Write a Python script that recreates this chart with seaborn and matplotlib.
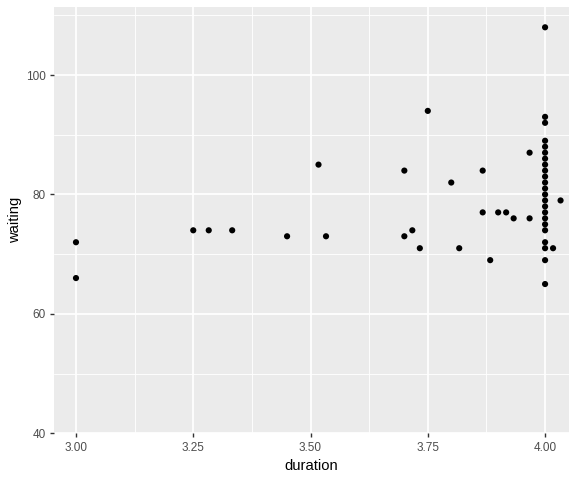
import matplotlib
matplotlib.use("Agg")
import matplotlib.pyplot as plt
import seaborn as sns
import pandas as pd
from matplotlib.ticker import MultipleLocator

# data
duration = [3.0, 3.0, 3.25, 3.283, 3.333, 3.45, 3.517, 3.533,
            3.7, 3.7, 3.717, 3.733, 3.75, 3.8, 3.817, 3.867, 3.867,
            3.883, 3.9, 3.917, 3.933, 3.967, 3.967]
waiting = [72, 66, 74, 74, 74, 73, 85, 73,
           84, 73, 74, 71, 94, 82, 71, 84, 77,
           69, 77, 77, 76, 87, 76]

# column at duration = 4.0
waiting_at_4 = [108, 93, 92, 89, 88, 87, 86, 85, 84, 83, 82, 81, 80,
                79, 78, 77, 76, 75, 74, 72, 71, 69, 65]

extra_duration = [4.017, 4.033]
extra_waiting = [71, 79]

x_ticks = [3.00, 3.25, 3.50, 3.75, 4.00]
x_tick_labels = ["3.00", "3.25", "3.50", "3.75", "4.00"]
y_ticks = [40, 60, 80, 100]

df = pd.DataFrame({
    "duration": duration + [4.0] * len(waiting_at_4) + extra_duration,
    "waiting": waiting + waiting_at_4 + extra_waiting,
})

sns.set_style("darkgrid", {"axes.facecolor": "#EBEBEB", "grid.color": "white"})
plt.rcParams["font.family"] = ["Liberation Sans", "DejaVu Sans"]

fig = plt.figure(figsize=(8, 480 / 72), dpi=72)
ax = fig.add_axes([53.7 / 576, (480 - 433.3) / 480,
                   (569 - 53.7) / 576, (433.3 - 7) / 480])

sns.scatterplot(data=df, x="duration", y="waiting", ax=ax,
                color="black", s=38, edgecolor="none", zorder=3)

ax.set_xlim(2.9525, 4.051)
ax.set_ylim(40, 111.4)
ax.set_xticks(x_ticks)
ax.set_xticklabels(x_tick_labels)
ax.set_yticks(y_ticks)
ax.xaxis.set_minor_locator(MultipleLocator(0.125))
ax.yaxis.set_minor_locator(MultipleLocator(10))

ax.grid(which="major", color="white", linewidth=1.8)
ax.grid(which="minor", color="white", linewidth=0.9)
ax.set_axisbelow(True)
for s in ax.spines.values():
    s.set_visible(False)

ax.tick_params(which="major", length=3.7, width=1.4, color="#333333",
               labelsize=11.7, labelcolor="#4D4D4D", pad=4,
               bottom=True, left=True)
ax.tick_params(axis="x", which="major", pad=5)
ax.tick_params(which="minor", length=0)

ax.set_xlabel("duration", fontsize=14.7, color="black", labelpad=5)
ax.set_ylabel("waiting", fontsize=14.7, color="black", labelpad=4)

fig.savefig("out.png", dpi=72)
